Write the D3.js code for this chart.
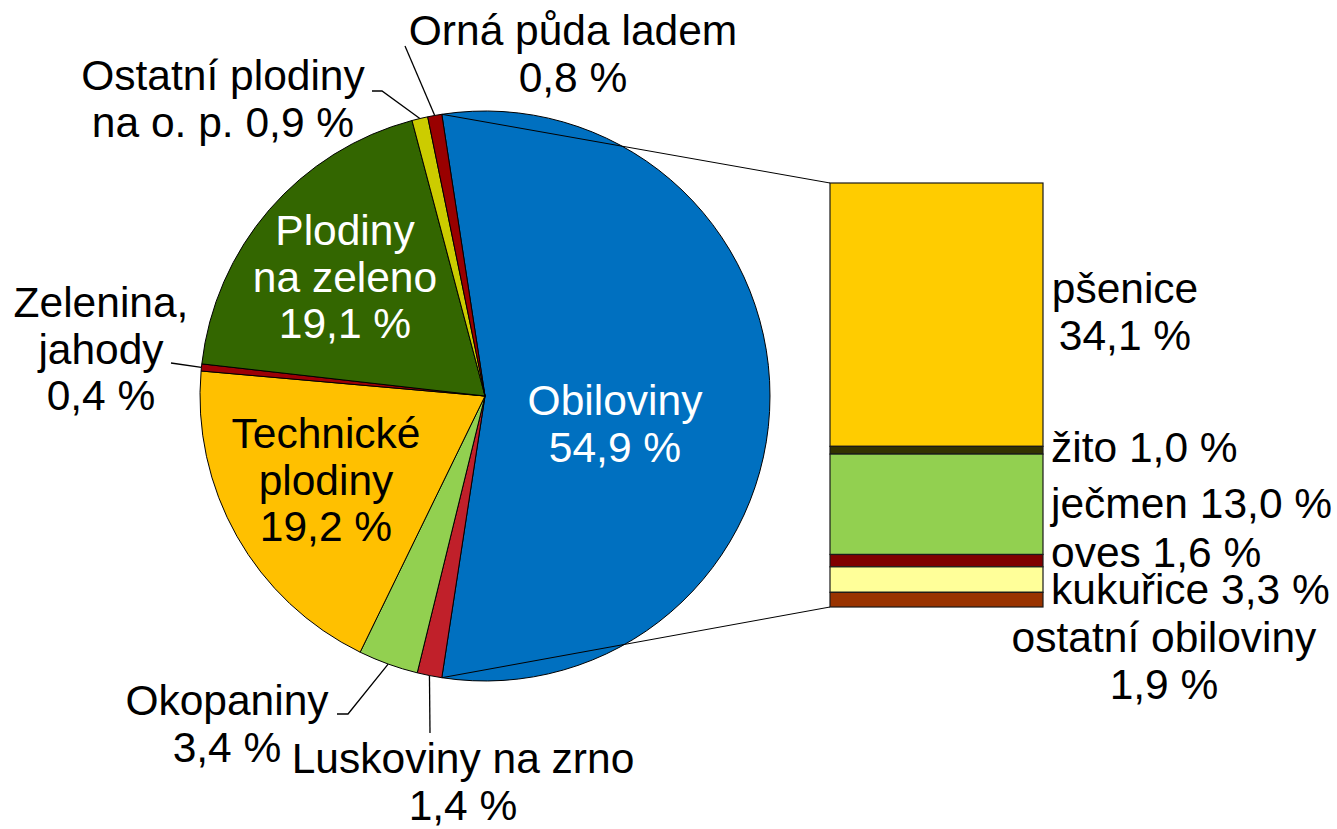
<!DOCTYPE html>
<html>
<head>
<meta charset="utf-8">
<script src="https://cdn.jsdelivr.net/npm/d3@7"></script>
<style>
  body { margin: 0; background: #fff; }
  text { font-family: "Liberation Sans", Arial, sans-serif; font-size: 42.5px; fill: #000; }
</style>
</head>
<body>
<div id="chart"></div>
<script>
// pie slices, clockwise starting with Obiloviny
var pieNames = ["Obiloviny", "Luskoviny na zrno", "Okopaniny", "Technické plodiny",
  "Zelenina, jahody", "Plodiny na zeleno", "Ostatní plodiny na o. p.", "Orná půda ladem"];
var pieValues = [54.9, 1.4, 3.4, 19.2, 0.4, 19.1, 0.9, 0.8];
var pieColors = ["#0070c0", "#c0202a", "#92d050", "#ffc000", "#9c0006", "#336600", "#cccc00", "#990000"];

// breakdown of Obiloviny, top to bottom
var barNames = ["pšenice", "žito", "ječmen", "oves", "kukuřice", "ostatní obiloviny"];
var barValues = [34.1, 1.0, 13.0, 1.6, 3.3, 1.9];
var barColors = ["#ffcc00", "#333300", "#92d050", "#800000", "#ffff99", "#993300"];

var W = 1337, H = 829;
var cx = 485, cy = 396, r = 285;

var svg = d3.select("#chart").append("svg")
  .attr("width", W)
  .attr("height", H);

var total = d3.sum(pieValues);
var a0 = Math.PI / 2 - Math.PI * pieValues[0] / total;

var pie = d3.pie()
  .sort(null)
  .startAngle(a0)
  .endAngle(a0 + 2 * Math.PI);

var arcs = pie(pieValues);
var arc = d3.arc().innerRadius(0).outerRadius(r);

var g = svg.append("g")
  .attr("transform", "translate(" + cx + "," + cy + ")");

g.selectAll("path")
  .data(arcs)
  .enter().append("path")
  .attr("d", arc)
  .attr("fill", function (d, i) { return pieColors[i]; })
  .attr("stroke", "#000")
  .attr("stroke-width", 1);

function edge(a, rad) {
  return [cx + rad * Math.sin(a), cy - rad * Math.cos(a)];
}

// bar of pie
var barX = 830, barW = 213;
var y = d3.scaleLinear()
  .domain([0, d3.sum(barValues)])
  .range([183, 607]);

var cum = 0;
var barData = barValues.map(function (v, i) {
  var d = {v: v, y0: cum, y1: cum + v, color: barColors[i]};
  cum += v;
  return d;
});

svg.selectAll(".seg")
  .data(barData)
  .enter().append("rect")
  .attr("class", "seg")
  .attr("x", barX)
  .attr("y", function (d) { return y(d.y0); })
  .attr("width", barW)
  .attr("height", function (d) { return y(d.y1) - y(d.y0); })
  .attr("fill", function (d) { return d.color; })
  .attr("stroke", "#1a1a1a")
  .attr("stroke-width", 1.2);

// connector lines pie -> bar
var pTop = edge(arcs[0].startAngle, r),
    pBot = edge(arcs[0].endAngle, r);
svg.append("line")
  .attr("x1", pTop[0]).attr("y1", pTop[1])
  .attr("x2", barX).attr("y2", y(0))
  .attr("stroke", "#000").attr("stroke-width", 1);
svg.append("line")
  .attr("x1", pBot[0]).attr("y1", pBot[1])
  .attr("x2", barX).attr("y2", y(d3.sum(barValues)))
  .attr("stroke", "#000").attr("stroke-width", 1);

// leader lines: slice index, then bend points toward the label
var leaders = [
  {i: 7, pts: [[405, 46]]},
  {i: 6, pts: [[382, 91], [372, 91]]},
  {i: 4, pts: [[171, 363]]},
  {i: 2, pts: [[348, 714], [337, 714]]},
  {i: 1, pts: [[430, 733]]}
];
var line = d3.line();
leaders.forEach(function (l) {
  var a = arcs[l.i];
  var p = edge((a.startAngle + a.endAngle) / 2, r);
  svg.append("path")
    .attr("d", line([p].concat(l.pts)))
    .attr("fill", "none")
    .attr("stroke", "#000")
    .attr("stroke-width", 1.3);
});

function fmt(v) {
  return d3.format(".1f")(v).replace(".", ",") + " %";
}

// labels: lines, anchor position, alignment, colour
var labels = [
  {lines: ["Obiloviny", fmt(pieValues[0])], x: 615, y: 415, fill: "#fff"},
  {lines: ["Luskoviny na zrno", fmt(pieValues[1])], x: 463, y: 773},
  {lines: ["Okopaniny", fmt(pieValues[2])], x: 227, y: 715},
  {lines: ["Technické", "plodiny", fmt(pieValues[3])], x: 326, y: 448},
  {lines: ["Zelenina,", "jahody", fmt(pieValues[4])], x: 101, y: 317},
  {lines: ["Plodiny", "na zeleno", fmt(pieValues[5])], x: 345, y: 245, fill: "#fff"},
  {lines: ["Ostatní plodiny", "na o. p. " + fmt(pieValues[6])], x: 223, y: 90},
  {lines: ["Orná půda ladem", fmt(pieValues[7])], x: 573, y: 45},
  {lines: [barNames[0], fmt(barValues[0])], x: 1125, y: 303},
  {lines: [barNames[1] + " " + fmt(barValues[1])], x: 1051, y: 462, anchor: "start"},
  {lines: [barNames[2] + " " + fmt(barValues[2])], x: 1051, y: 518, anchor: "start"},
  {lines: [barNames[3] + " " + fmt(barValues[3])], x: 1051, y: 567, anchor: "start"},
  {lines: [barNames[4] + " " + fmt(barValues[4])], x: 1051, y: 604, anchor: "start"},
  {lines: [barNames[5], fmt(barValues[5])], x: 1164, y: 652}
];

labels.forEach(function (l) {
  var t = svg.append("text")
    .attr("x", l.x)
    .attr("y", l.y)
    .attr("text-anchor", l.anchor || "middle")
    .style("fill", l.fill || "#000");
  l.lines.forEach(function (s, k) {
    t.append("tspan")
      .attr("x", l.x)
      .attr("y", l.y + k * 46.5)
      .text(s);
  });
});
</script>
</body>
</html>
